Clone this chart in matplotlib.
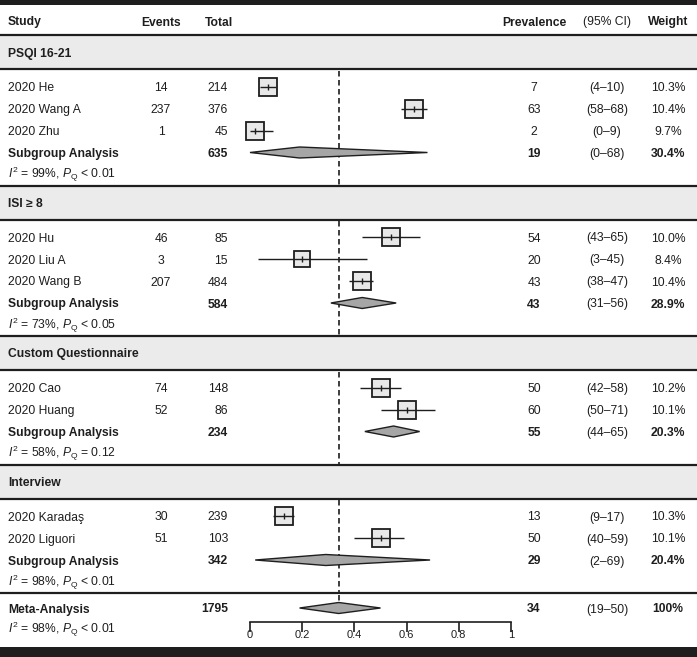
import numpy as np
import matplotlib
matplotlib.use("Agg")
import matplotlib.pyplot as plt
from matplotlib import font_manager as fm

# ---- data ----
group_names = ["PSQI 16-21", "ISI \u2265 8", "Custom Questionnaire", "Interview"]
study_names = ["2020 He", "2020 Wang A", "2020 Zhu",
               "2020 Hu", "2020 Liu A", "2020 Wang B",
               "2020 Cao", "2020 Huang",
               "2020 Karada\u015f", "2020 Liguori"]
study_group = [0, 0, 0, 1, 1, 1, 2, 2, 3, 3]
events = [14, 237, 1, 46, 3, 207, 74, 52, 30, 51]
totals = [214, 376, 45, 85, 15, 484, 148, 86, 239, 103]
prev = [7, 63, 2, 54, 20, 43, 50, 60, 13, 50]
ci_lo = [4, 58, 0, 43, 3, 38, 42, 50, 9, 40]
ci_hi = [10, 68, 9, 65, 45, 47, 58, 71, 17, 59]
weights = [10.3, 10.4, 9.7, 10.0, 8.4, 10.4, 10.2, 10.1, 10.3, 10.1]

sub_total = [635, 584, 234, 342]
sub_prev = [19, 43, 55, 29]
sub_lo = [0, 31, 44, 2]
sub_hi = [68, 56, 65, 69]
sub_weight = [30.4, 28.9, 20.3, 20.4]
sub_i2 = [99, 73, 58, 98]
sub_p = ["< 0.01", "< 0.05", "= 0.12", "< 0.01"]

meta_total = 1795
meta_prev, meta_lo, meta_hi = 34, 19, 50
meta_i2, meta_p = 98, "< 0.01"

ticks = [0, 0.2, 0.4, 0.6, 0.8, 1]
tick_labels = ["0", "0.2", "0.4", "0.6", "0.8", "1"]

# ---- fonts ----
names = {f.name for f in fm.fontManager.ttflist}
if "Liberation Sans Narrow" in names:
    FAM, FS, TFS = "Liberation Sans Narrow", 10.3, 9.8
else:
    FAM, FS, TFS = "Liberation Sans", 8.7, 8
plt.rcParams["font.family"] = [FAM, "DejaVu Sans"]
plt.rcParams["mathtext.fontset"] = "custom"
plt.rcParams["mathtext.rm"] = FAM
plt.rcParams["mathtext.it"] = FAM + ":italic"
plt.rcParams["mathtext.bf"] = FAM + ":bold"

INK = "#1e1e1e"
BAND = "#ebebeb"
BOX = "#e8e8e8"
DIA = "#a6a6a6"

W, H = 697, 657
fig = plt.figure(figsize=(W / 100, H / 100), dpi=100)
ax = fig.add_axes([0, 0, 1, 1])
ax.set_xlim(0, W)
ax.set_ylim(H, 0)
ax.axis("off")

fx = fig.add_axes([250 / W, 0, 261 / W, 1])
fx.set_xlim(0, 1)
fx.set_ylim(H, 0)
fx.patch.set_alpha(0)
for s in ["top", "left", "right"]:
    fx.spines[s].set_visible(False)
fx.set_yticks([])

# column positions
X_STUDY, X_EV, X_TOT, X_PREV, X_CI, X_WT = 8, 161, 228, 534, 607, 668


def txt(x, y, s, ha="left", bold=False):
    ax.text(x, y, s, ha=ha, va="center_baseline", fontsize=FS, color=INK,
            fontweight="bold" if bold else "normal")


def hline(y, lw=1.6):
    ax.hlines(y, 0, W, color=INK, lw=lw)


def diamond(y, est, lo, hi, h=5.5):
    fx.fill([lo, est, hi, est], [y, y - h, y, y + h], facecolor=DIA,
            edgecolor=INK, lw=1.0, zorder=4, clip_on=False)


def i2_text(y, i2, p):
    ax.text(X_STUDY, y, r"$I^2$ = %d%%, $P_{\mathrm{Q}}$ %s" % (i2, p),
            ha="left", va="center_baseline", fontsize=FS, color=INK)


dash = (0, (3.3, 2.1))
mx = meta_prev / 100

# bars top/bottom
ax.axhspan(0, 4.5, color=INK, lw=0)
ax.axhspan(647, H, color=INK, lw=0)

# header
y_head = 21
txt(X_STUDY, y_head, "Study", bold=True)
txt(X_EV, y_head, "Events", ha="center", bold=True)
txt(219, y_head, "Total", ha="center", bold=True)
txt(X_PREV, y_head, "Prevalence", ha="center", bold=True)
txt(X_CI, y_head, "(95% CI)", ha="center")
txt(X_WT, y_head, "Weight", ha="center", bold=True)

y = 35
wmax = max(weights)
for g, gname in enumerate(group_names):
    band_bot = y + 34
    ax.axhspan(y, band_bot, color=BAND, lw=0)
    hline(y)
    hline(band_bot)
    txt(X_STUDY, y + 17, gname, bold=True)

    row = band_bot + 17.5
    for i in [k for k, gg in enumerate(study_group) if gg == g]:
        txt(X_STUDY, row, study_names[i])
        txt(X_EV, row, str(events[i]), ha="center")
        txt(X_TOT, row, str(totals[i]), ha="right")
        txt(X_PREV, row, str(prev[i]), ha="center")
        txt(X_CI, row, "(%d\u2013%d)" % (ci_lo[i], ci_hi[i]), ha="center")
        txt(X_WT, row, "%.1f%%" % weights[i], ha="center")
        p = prev[i] / 100
        ms = 13.2 * np.sqrt(weights[i] / wmax)
        fx.plot([p], [row], marker="s", ms=ms, mfc=BOX, mec=INK, mew=1.3,
                ls="none", zorder=3, clip_on=False)
        fx.hlines(row, ci_lo[i] / 100, ci_hi[i] / 100, color=INK, lw=1.0,
                  zorder=4, clip_on=False)
        fx.plot([p], [row], marker="|", ms=4.5, mew=1.0, color=INK, zorder=5,
                clip_on=False)
        row += 22

    txt(X_STUDY, row, "Subgroup Analysis", bold=True)
    txt(X_TOT, row, str(sub_total[g]), ha="right", bold=True)
    txt(X_PREV, row, str(sub_prev[g]), ha="center", bold=True)
    txt(X_CI, row, "(%d\u2013%d)" % (sub_lo[g], sub_hi[g]), ha="center")
    txt(X_WT, row, "%.1f%%" % sub_weight[g], ha="center", bold=True)
    diamond(row, sub_prev[g] / 100, sub_lo[g] / 100, sub_hi[g] / 100)
    i2_text(row + 19, sub_i2[g], sub_p[g])

    y = row + 33
    fx.vlines(mx, band_bot + 1.5, y - 1, color=INK, lw=1.2, linestyles=[dash], zorder=1)

hline(y)
meta_row = y + 15
txt(X_STUDY, meta_row, "Meta-Analysis", bold=True)
txt(X_TOT, meta_row, str(meta_total), ha="right", bold=True)
txt(X_PREV, meta_row, str(meta_prev), ha="center", bold=True)
txt(X_CI, meta_row, "(%d\u2013%d)" % (meta_lo, meta_hi), ha="center")
txt(X_WT, meta_row, "100%", ha="center", bold=True)
diamond(meta_row, mx, meta_lo / 100, meta_hi / 100)
i2_text(meta_row + 18, meta_i2, meta_p)
fx.vlines(mx, y + 1.5, meta_row - 5, color=INK, lw=1.2, linestyles=[dash], zorder=1)

# x axis of the forest plot
fx.spines["bottom"].set_position(("data", meta_row + 13.5))
fx.spines["bottom"].set_bounds(0, 1)
fx.spines["bottom"].set_color(INK)
fx.spines["bottom"].set_linewidth(1.2)
fx.set_xticks(ticks)
fx.set_xticklabels(tick_labels)
fx.tick_params(axis="x", direction="out", length=7.5, width=1.2, color=INK,
               labelsize=TFS, labelcolor=INK, pad=-1.5)

fig.savefig("out.png", dpi=100)
